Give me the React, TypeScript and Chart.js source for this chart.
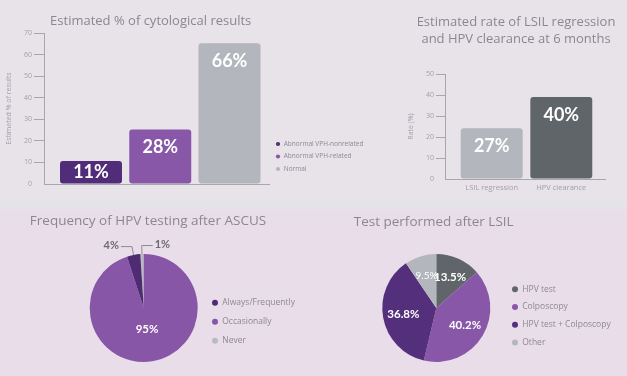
import React, { useEffect, useRef } from 'react';
import { Chart, registerables } from 'chart.js';

Chart.register(...registerables);

// ---------- data ----------
const cytoCategories = ['Abnormal VPH-nonrelated', 'Abnormal VPH-related', 'Normal'];
const cytoBarHeights = [10.7, 25.3, 65.3];
const cytoLabels = ['11%', '28%', '66%'];
const cytoTicks = [0, 70, 10];

const regressionCategories = ['LSIL regression', 'HPV clearance'];
const regressionBarHeights = [24.2, 39];
const regressionLabels = ['27%', '40%'];
const regressionTicks = [0, 50, 10];

const ascusCategories = ['Always/Frequently', 'Occasionally', 'Never'];
const ascusValues = [4, 95, 1];

const lsilCategories = ['HPV test', 'Colposcopy', 'HPV test + Colposcopy', 'Other'];
const lsilValues = [13.5, 40.2, 36.8, 9.5];

// ---------- styles ----------
const FONT = '"Open Sans", "Noto Sans", sans-serif';
const NUM_FONT = 'Lato, "Open Sans", sans-serif';
const DARK_PURPLE = '#512c79';
const MID_PURPLE = '#8857a8';
const LIGHT_GRAY = '#b3b6bd';
const DARK_GRAY = '#5f6568';
const TITLE_COLOR = '#8b8791';
const TICK_COLOR = '#a39fa8';
const AXIS_COLOR = '#aaa6ae';
const LEGEND_COLOR = '#8d8993';
const TOP_BG = '#e8e2e9';
const STRIP_BG = '#e4e3e7';
const BOTTOM_BG = '#e9dde9';

const cytoColors = [DARK_PURPLE, MID_PURPLE, LIGHT_GRAY];
const regressionColors = [LIGHT_GRAY, DARK_GRAY];
const ascusColors = ['#4f2b74', '#8856a7', '#b9bbc1'];
const lsilColors = [DARK_GRAY, MID_PURPLE, '#542f7b', LIGHT_GRAY];

// natural width of a vertical Chart.js legend (padding + box + gap + text + 10)
function legendWidth(labels: string[], size: number, padding: number, boxWidth: number) {
  const ctx = document.createElement('canvas').getContext('2d') as CanvasRenderingContext2D;
  ctx.font = `normal ${size}px ${FONT}`;
  const w = Math.max(...labels.map((t) => ctx.measureText(t).width));
  return padding + boxWidth + size / 2 + w + 10;
}

const barLabelPlugin = (getLabel: (di: number, i: number) => string) => ({
  id: 'barLabels',
  afterDatasetsDraw(chart: any) {
    const ctx = chart.ctx;
    ctx.save();
    ctx.font = `700 18px ${NUM_FONT}`;
    ctx.fillStyle = '#ffffff';
    ctx.textAlign = 'center';
    ctx.textBaseline = 'middle';
    chart.data.datasets.forEach((_ds: any, di: number) => {
      const meta = chart.getDatasetMeta(di);
      meta.data.forEach((el: any, i: number) => {
        const { x, y, base } = el.getProps(['x', 'y', 'base'], true);
        const ly = Math.min(y + 18, (y + base) / 2);
        ctx.fillText(getLabel(di, i), x, ly);
      });
    });
    ctx.restore();
  },
});

const pieLabelPlugin = (factor: number) => ({
  id: 'pieLabels',
  afterDatasetsDraw(chart: any) {
    const ctx = chart.ctx;
    const meta = chart.getDatasetMeta(0);
    const values = chart.data.datasets[0].data;
    const outside: any[] = [];
    ctx.save();
    ctx.textBaseline = 'middle';
    meta.data.forEach((arc: any, i: number) => {
      const { x, y, startAngle, endAngle, outerRadius } = arc.getProps(
        ['x', 'y', 'startAngle', 'endAngle', 'outerRadius'],
        true
      );
      const mid = (startAngle + endAngle) / 2;
      const v = values[i];
      const text = `${v}%`;
      if (v < 5) {
        let rel = ((mid + Math.PI / 2) * 180) / Math.PI;
        while (rel > 180) rel -= 360;
        while (rel <= -180) rel += 360;
        outside.push({ x, y, mid, rel, outerRadius, text });
        return;
      }
      const r = outerRadius * factor;
      ctx.fillStyle = '#ffffff';
      ctx.textAlign = 'center';
      ctx.font = v < 10 ? `400 10px ${NUM_FONT}` : `700 11.5px ${NUM_FONT}`;
      ctx.fillText(text, x + Math.cos(mid) * r, y + Math.sin(mid) * r);
    });
    outside.sort((a, b) => a.rel - b.rel);
    outside.forEach((o, k) => {
      const goLeft = k < outside.length - 1;
      const R = o.outerRadius;
      const p0x = o.x + Math.cos(o.mid) * R;
      const p0y = o.y + Math.sin(o.mid) * R;
      const p1x = o.x + Math.cos(o.mid) * (R + 8.5);
      const p1y = o.y + Math.sin(o.mid) * (R + 8.5);
      const p2x = p1x + (goLeft ? -11 : 11);
      ctx.strokeStyle = '#8f8b94';
      ctx.lineWidth = 1;
      ctx.beginPath();
      ctx.moveTo(p0x, p0y);
      ctx.lineTo(p1x, p1y);
      ctx.lineTo(p2x, p1y);
      ctx.stroke();
      ctx.fillStyle = '#6e6a72';
      ctx.font = `700 11px ${NUM_FONT}`;
      ctx.textAlign = goLeft ? 'right' : 'left';
      ctx.fillText(o.text, p2x + (goLeft ? -2 : 2), p1y - 1);
    });
    ctx.restore();
  },
});

const hiddenZeroTick = (c: any) => (c.tick && c.tick.value === 0 ? 'rgba(0,0,0,0)' : AXIS_COLOR);

// chart 1 canvas starts off-page to the left so the right legend has room in Chart.js' layout
const CYTO_SHIFT = 80;
const CYTO_W = 390 + CYTO_SHIFT;

function cytoConfig(): any {
  const lw = legendWidth(cytoCategories, 6.5, 6, 5);
  const chartRight = CYTO_SHIFT + 269.5;
  return {
    type: 'bar',
    data: {
      datasets: cytoCategories.map((name, k) => ({
        label: name,
        data: [{ x: k + 1, y: cytoBarHeights[k] }],
        backgroundColor: cytoColors[k],
        grouped: false,
        borderRadius: 3,
        borderSkipped: false,
        barPercentage: 0.895,
        categoryPercentage: 1,
      })),
    },
    plugins: [barLabelPlugin((di) => cytoLabels[di])],
    options: {
      responsive: false,
      animation: false,
      events: [],
      layout: { padding: { left: 0, right: CYTO_W - chartRight - lw, top: 33, bottom: 16 } },
      scales: {
        x: {
          type: 'linear',
          min: 0.3213,
          max: 3.5776,
          offset: false,
          grid: { display: false, drawTicks: false },
          ticks: { display: false },
          border: { display: true, color: AXIS_COLOR },
        },
        y: {
          min: cytoTicks[0],
          max: cytoTicks[1],
          ticks: { stepSize: cytoTicks[2], color: TICK_COLOR, font: { family: FONT, size: 7 }, padding: 2 },
          grid: { drawOnChartArea: false, drawTicks: true, tickLength: 10, tickColor: hiddenZeroTick },
          border: { display: true, color: AXIS_COLOR },
          title: {
            display: true,
            text: 'Estimated % of results',
            color: TICK_COLOR,
            font: { family: FONT, size: 7 },
            padding: { top: 4.8 + CYTO_SHIFT, bottom: 0 },
          },
          afterFit: (s: any) => {
            s.width = 44 + CYTO_SHIFT;
          },
        },
      },
      plugins: {
        legend: {
          position: 'right',
          align: 'start',
          fullSize: false,
          title: { display: true, text: '', font: { size: 10, lineHeight: 1 }, padding: { top: 91.75, bottom: 0 } },
          labels: {
            usePointStyle: true,
            pointStyle: 'circle',
            boxWidth: 5,
            boxHeight: 3,
            padding: 6,
            color: LEGEND_COLOR,
            font: { family: FONT, size: 6.5 },
          },
        },
        tooltip: { enabled: false },
      },
    },
  };
}

function regressionConfig(): any {
  return {
    type: 'bar',
    data: {
      datasets: [
        {
          label: 'Rate (%)',
          data: regressionBarHeights.map((v, k) => ({ x: k + 1, y: v })),
          backgroundColor: regressionColors,
          borderRadius: 3,
          borderSkipped: false,
          barPercentage: 0.89,
          categoryPercentage: 1,
        },
      ],
    },
    plugins: [barLabelPlugin((_di, i) => regressionLabels[i])],
    options: {
      responsive: false,
      animation: false,
      events: [],
      layout: { padding: { left: 0, right: 22, top: 74, bottom: 3 } },
      scales: {
        x: {
          type: 'linear',
          min: 0.329,
          max: 2.628,
          offset: false,
          afterBuildTicks: (s: any) => {
            s.ticks = regressionCategories.map((_c, k) => ({ value: k + 1 }));
          },
          ticks: {
            callback: (v: any) => regressionCategories[Math.round(Number(v)) - 1] ?? '',
            autoSkip: false,
            maxRotation: 0,
            color: TICK_COLOR,
            font: { family: FONT, size: 7.5 },
            padding: 4.5,
          },
          grid: { display: false, drawTicks: false },
          border: { display: true, color: AXIS_COLOR },
        },
        y: {
          min: regressionTicks[0],
          max: regressionTicks[1],
          ticks: { stepSize: regressionTicks[2], color: TICK_COLOR, font: { family: FONT, size: 7 }, padding: 2 },
          grid: { drawOnChartArea: false, drawTicks: true, tickLength: 9, tickColor: hiddenZeroTick },
          border: { display: true, color: AXIS_COLOR },
          title: {
            display: true,
            text: 'Rate (%)',
            color: TICK_COLOR,
            font: { family: FONT, size: 7 },
            padding: { top: 16.8, bottom: 0 },
          },
          afterFit: (s: any) => {
            s.width = 55;
          },
        },
      },
      plugins: {
        legend: { display: false },
        tooltip: { enabled: false },
      },
    },
  };
}

function ascusConfig(): any {
  const lw = legendWidth(ascusCategories, 8.5, 10.5, 6);
  return {
    type: 'pie',
    data: {
      labels: [...ascusCategories].reverse(),
      datasets: [
        {
          data: [...ascusValues].reverse(),
          backgroundColor: [...ascusColors].reverse(),
          borderWidth: 0,
          hoverOffset: 0,
        },
      ],
    },
    plugins: [pieLabelPlugin(0.4)],
    options: {
      responsive: false,
      animation: false,
      events: [],
      rotation: -3.6,
      layout: { padding: { left: 85.9, right: 313 - 201.5 - lw, top: 45, bottom: 14 } },
      plugins: {
        legend: {
          position: 'right',
          align: 'start',
          fullSize: false,
          reverse: true,
          title: { display: true, text: '', font: { size: 10, lineHeight: 1 }, padding: { top: 23.95, bottom: 0 } },
          labels: {
            usePointStyle: true,
            pointStyle: 'circle',
            boxWidth: 6,
            boxHeight: 4.24,
            padding: 10.5,
            color: LEGEND_COLOR,
            font: { family: FONT, size: 8.5 },
          },
        },
        tooltip: { enabled: false },
      },
    },
  };
}

function lsilConfig(): any {
  const lw = legendWidth(lsilCategories, 8.5, 9.2, 6);
  return {
    type: 'pie',
    data: {
      labels: lsilCategories,
      datasets: [
        {
          data: lsilValues,
          backgroundColor: lsilColors,
          borderWidth: 0,
          hoverOffset: 0,
        },
      ],
    },
    plugins: [pieLabelPlugin(0.62)],
    options: {
      responsive: false,
      animation: false,
      events: [],
      layout: { padding: { left: 56.8, right: 314 - 189.8 - lw, top: 45, bottom: 14 } },
      plugins: {
        legend: {
          position: 'right',
          align: 'start',
          fullSize: false,
          title: { display: true, text: '', font: { size: 10, lineHeight: 1 }, padding: { top: 11.85, bottom: 0 } },
          labels: {
            usePointStyle: true,
            pointStyle: 'circle',
            boxWidth: 6,
            boxHeight: 4.24,
            padding: 9.2,
            color: LEGEND_COLOR,
            font: { family: FONT, size: 8.5 },
          },
        },
        tooltip: { enabled: false },
      },
    },
  };
}

function ChartCanvas(props: { left: number; top: number; width: number; height: number; config: () => any }) {
  const ref = useRef<HTMLCanvasElement | null>(null);
  useEffect(() => {
    if (!ref.current) return;
    const chart = new Chart(ref.current, props.config());
    return () => chart.destroy();
  }, []);
  return (
    <canvas
      ref={ref}
      width={props.width}
      height={props.height}
      style={{
        position: 'absolute',
        left: props.left,
        top: props.top,
        width: props.width,
        height: props.height,
      }}
    />
  );
}

function Title(props: { cx: number; top: number; size: number; lineHeight: number; lines: string[] }) {
  return (
    <div
      style={{
        position: 'absolute',
        left: props.cx - 200,
        top: props.top,
        width: 400,
        textAlign: 'center',
        whiteSpace: 'nowrap',
        fontFamily: FONT,
        fontSize: props.size,
        lineHeight: `${props.lineHeight}px`,
        color: TITLE_COLOR,
      }}
    >
      {props.lines.map((l, i) => (
        <div key={i}>{l}</div>
      ))}
    </div>
  );
}

export default function App() {
  return (
    <div
      style={{
        position: 'absolute',
        left: 0,
        top: 0,
        width: 627,
        height: 376,
        overflow: 'hidden',
        background: BOTTOM_BG,
      }}
    >
      <div style={{ position: 'absolute', left: 0, top: 0, width: 627, height: 200, background: TOP_BG }} />
      <div style={{ position: 'absolute', left: 0, top: 200, width: 627, height: 9, background: STRIP_BG }} />
      <ChartCanvas left={-CYTO_SHIFT} top={0} width={CYTO_W} height={200} config={cytoConfig} />
      <ChartCanvas left={390} top={0} width={237} height={200} config={regressionConfig} />
      <ChartCanvas left={0} top={209} width={313} height={167} config={ascusConfig} />
      <ChartCanvas left={313} top={209} width={314} height={167} config={lsilConfig} />
      <Title cx={150.7} top={12.2} size={13} lineHeight={17} lines={['Estimated % of cytological results']} />
      <Title
        cx={516}
        top={12.9}
        size={13}
        lineHeight={17.6}
        lines={['Estimated rate of LSIL regression', 'and HPV clearance at 6 months']}
      />
      <Title cx={148} top={212.2} size={13.5} lineHeight={17} lines={['Frequency of HPV testing after ASCUS']} />
      <Title cx={433.7} top={213.2} size={13.5} lineHeight={17} lines={['Test performed after LSIL']} />
    </div>
  );
}
